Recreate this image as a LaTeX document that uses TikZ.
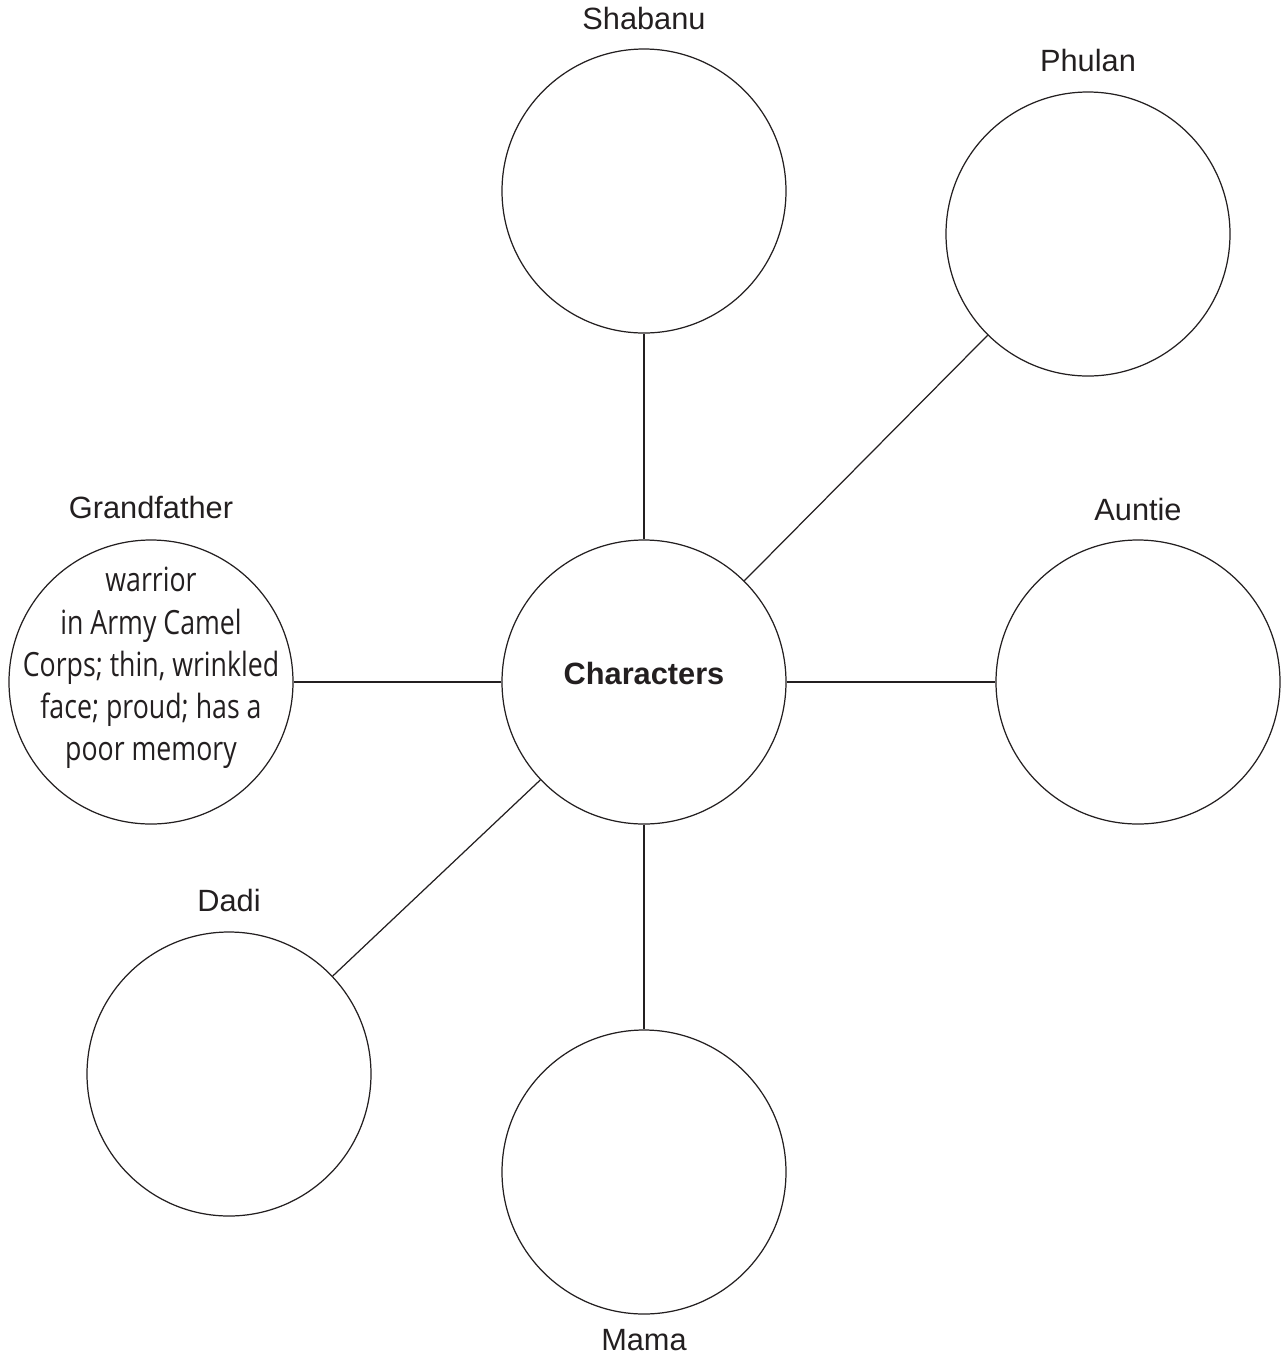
\documentclass[tikz,border=0pt]{standalone}
\usepackage{fontspec}
\setmainfont{Liberation Sans}
\newfontfamily\handfont[FakeStretch=0.8]{Open Sans}
\usepackage{xcolor}
\usetikzlibrary{positioning}
\definecolor{ink}{HTML}{231F20}

\begin{document}
\begin{tikzpicture}[x=0.2mm, y=-0.2mm,
                    bubble/.style={circle, draw=ink, line width=0.7pt,
                                   minimum size=56.8mm, inner sep=0pt},
                    every label/.style={font=\fontsize{17.5}{21}\selectfont,
                                        text=ink, inner sep=0pt},
                    link/.style={draw=ink, line width=0.7pt}]
  \useasboundingbox (0,0) rectangle (1287,1355);

  \node[bubble, label={[font=\bfseries\fontsize{17.5}{21}\selectfont, yshift=1.8mm]center:Characters}]
                                                              (chars)   at (644,682)  {};
  \node[bubble, label={[label distance=3.6mm]above:Shabanu}]     (shabanu) at (644,191)  {};
  \node[bubble, label={[label distance=3.8mm]above:Phulan}]      (phulan)  at (1088,234) {};
  \node[bubble, label={[label distance=3.6mm]above:Auntie}]      (auntie)  at (1138,682) {};
  \node[bubble, label={[label distance=2.8mm]below:Mama}]        (mama)    at (644,1172) {};
  \node[bubble, label={[label distance=3.8mm]above:Dadi}]        (dadi)    at (229,1074) {};
  \node[bubble, label={[label distance=4mm]above:Grandfather}]   (grandpa) at (151,682)  {};

  \node[font=\handfont\fontsize{19}{24}\selectfont, align=center, text=ink]
    (gfnotes) at ([yshift=2.8mm]grandpa.center)
    {warrior\\in Army Camel\\Corps; thin, wrinkled\\face; proud; has a\\poor memory};

  \path[link]
    (chars) edge (shabanu)
    (chars) edge (phulan)
    (chars) edge (auntie)
    (chars) edge (mama)
    (chars) edge (dadi)
    (chars) edge (grandpa);

\end{tikzpicture}
\end{document}
